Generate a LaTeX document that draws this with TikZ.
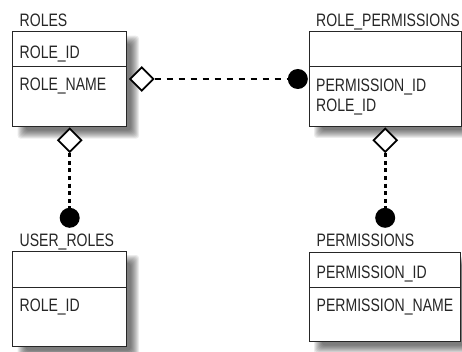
\documentclass[tikz,border=0pt]{standalone}
\usepackage{fontspec}
\newfontfamily\erfont[FakeStretch=0.78]{Liberation Sans}
\usetikzlibrary{shapes.geometric}
\tikzset{
  ent/.style={draw=black!85, line width=0.9pt, fill=white, anchor=north west, inner sep=0pt, outer sep=0pt},
  sep/.style={draw=black!85, line width=0.9pt},
  txt/.style={anchor=base west, inner sep=0pt, font=\erfont\fontsize{18}{20}\selectfont, text=black!85},
  dia/.style={diamond, draw=black, line width=1.8pt, fill=white, minimum width=24pt, minimum height=24pt, inner sep=0pt},
  dotc/.style={circle, fill=black, minimum size=20pt, inner sep=0pt},
  hdash/.style={line width=2.6pt, dash pattern=on 6pt off 6pt},
  vdash/.style={line width=3pt, dash pattern=on 4pt off 3.6pt},
}
\newcommand{\blurshade}[1]{%
  \foreach \k in {0,...,8}{%
    \fill[black, opacity=0.075, rounded corners=3pt]
      ([xshift={(5+\k)*1pt}, yshift={(-4-\k)*1pt}]#1.north west) rectangle
      ([xshift={(13-\k)*1pt}, yshift={(-12+\k)*1pt}]#1.south east);
  }%
}
\begin{document}
\begin{tikzpicture}[x=1pt, y=-1pt]
\fill[white] (0,0) rectangle (462,352);
\useasboundingbox (0,0) rectangle (462,352);

% entity boxes (placement only for shadows first)
\path (12.7,31.7) node[ent, draw=none, fill=none, minimum width=113.3pt, minimum height=95pt] (rolesS) {};
\path (309,31.7) node[ent, draw=none, fill=none, minimum width=152pt, minimum height=94.3pt] (rpS) {};
\path (12.7,251) node[ent, draw=none, fill=none, minimum width=113.3pt, minimum height=95.5pt] (urS) {};
\path (309,252.7) node[ent, draw=none, fill=none, minimum width=151.7pt, minimum height=89pt] (permS) {};
\blurshade{rolesS}
\blurshade{rpS}
\blurshade{urS}
\blurshade{permS}

% ROLES
\node[ent, minimum width=113.3pt, minimum height=95pt] (roles) at (12.7,31.7) {};
\draw[sep] (12.7,66.7) -- (126,66.7);
\node[txt] (rolesT) at (19.5,27) {ROLES};
\node[txt] (rolesA) at (19.5,59) {ROLE\_ID};
\node[txt] (rolesB) at (19.5,90.5) {ROLE\_NAME};

% ROLE_PERMISSIONS
\node[ent, minimum width=152pt, minimum height=94.3pt] (rp) at (309,31.7) {};
\draw[sep] (309,66.7) -- (461,66.7);
\node[txt] (rpT) at (316,27) {ROLE\_PERMISSIONS};
\node[txt] (rpA) at (316,91.5) {PERMISSION\_ID};
\node[txt] (rpB) at (316,111.5) {ROLE\_ID};

% USER_ROLES
\node[ent, minimum width=113.3pt, minimum height=95.5pt] (ur) at (12.7,251) {};
\draw[sep] (12.7,287.3) -- (126,287.3);
\node[txt] (urT) at (19.5,246.5) {USER\_ROLES};
\node[txt] (urA) at (19.5,311) {ROLE\_ID};

% PERMISSIONS
\node[ent, minimum width=151.7pt, minimum height=89pt] (perm) at (309,252.7) {};
\draw[sep] (309,287.7) -- (460.7,287.7);
\node[txt] (permT) at (316.5,246.5) {PERMISSIONS};
\node[txt] (permA) at (316.5,278.3) {PERMISSION\_ID};
\node[txt] (permB) at (316.5,311) {PERMISSION\_NAME};

% relationship ends
\node[dia] (d1) at (141.8,79) {};
\node[dotc] (c1) at (297.8,79) {};
\node[dia] (d2) at (69.7,140.3) {};
\node[dotc] (c2) at (69.7,217.8) {};
\node[dia] (d3) at (385.2,140.3) {};
\node[dotc] (c3) at (385.2,217.8) {};

% connectors
\draw[hdash] (d1.east) -- (c1.west);
\draw[vdash] (d2.south) -- (c2.north);
\draw[vdash] (d3.south) -- (c3.north);
\end{tikzpicture}
\end{document}
